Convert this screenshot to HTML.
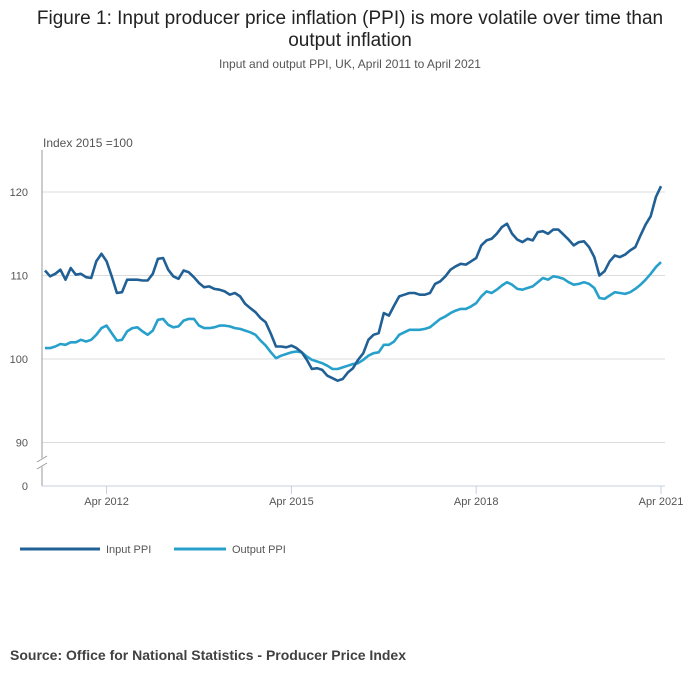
<!DOCTYPE html>
<html><head><meta charset="utf-8"><style>
body{margin:0;background:#fff;font-family:"Liberation Sans",sans-serif;}
svg text{font-family:"Liberation Sans",sans-serif;}
</style></head><body>
<svg width="700" height="682" viewBox="0 0 700 682">
<text x="350" y="24" text-anchor="middle" font-size="19" fill="#222">Figure 1: Input producer price inflation (PPI) is more volatile over time than</text>
<text x="350" y="46" text-anchor="middle" font-size="19" fill="#222">output inflation</text>
<text x="350" y="68" text-anchor="middle" font-size="12" fill="#555">Input and output PPI, UK, April 2011 to April 2021</text>
<text x="43" y="147" font-size="12" fill="#555">Index 2015 =100</text>
<g id="grid"></g>
<line x1="42" y1="150" x2="42" y2="486" stroke="#999" stroke-width="1"/>
<line x1="42" y1="486" x2="665" y2="486" stroke="#c6d0de" stroke-width="1"/>
<rect x="36" y="458" width="12" height="9" fill="#fff"/>
<line x1="37" y1="462" x2="47" y2="456" stroke="#999"/>
<line x1="37" y1="469" x2="47" y2="463" stroke="#999"/>
<text x="28" y="490" text-anchor="end" font-size="11" fill="#555">0</text>
<g id="ticks"></g>
<g id="lines"></g>
<line x1="20" y1="549" x2="100" y2="549" stroke="#206095" stroke-width="3"/>
<text x="106" y="553" font-size="11" fill="#555">Input PPI</text>
<line x1="174" y1="549" x2="226" y2="549" stroke="#27a0cc" stroke-width="3"/>
<text x="232" y="553" font-size="11" fill="#555">Output PPI</text>
<text x="10" y="660" font-size="14" font-weight="bold" fill="#414042">Source: Office for National Statistics - Producer Price Index</text>
</svg>
<script>
const inputPPI=[110.6,109.9,110.2,110.7,109.5,110.9,110.1,110.2,109.8,109.7,111.7,112.6,111.7,109.9,107.9,108.0,109.5,109.5,109.5,109.4,109.4,110.2,112.0,112.1,110.7,109.9,109.6,110.6,110.4,109.8,109.1,108.6,108.7,108.4,108.3,108.1,107.7,107.9,107.5,106.6,106.1,105.6,104.9,104.4,103.0,101.5,101.5,101.4,101.6,101.3,100.8,99.9,98.8,98.9,98.7,98.0,97.7,97.4,97.6,98.4,98.9,99.9,100.7,102.3,102.9,103.1,105.5,105.2,106.4,107.5,107.7,107.9,107.9,107.7,107.7,107.9,109.0,109.3,109.9,110.7,111.1,111.4,111.3,111.7,112.1,113.6,114.2,114.4,115.0,115.8,116.2,115.0,114.3,114.0,114.4,114.2,115.2,115.3,115.0,115.5,115.5,114.9,114.3,113.6,114.0,114.1,113.4,112.2,110.0,110.5,111.7,112.4,112.2,112.5,113.0,113.4,114.8,116.1,117.1,119.4,120.7];
const outputPPI=[101.3,101.3,101.5,101.8,101.7,102.0,102.0,102.3,102.1,102.3,102.9,103.7,104.0,103.1,102.2,102.3,103.3,103.7,103.8,103.3,102.9,103.4,104.7,104.8,104.1,103.8,103.9,104.6,104.8,104.8,104.0,103.7,103.7,103.8,104.0,104.0,103.9,103.7,103.6,103.4,103.2,102.9,102.2,101.6,100.8,100.1,100.4,100.6,100.8,100.9,100.8,100.3,99.9,99.7,99.5,99.2,98.8,98.8,99.0,99.2,99.4,99.5,99.9,100.4,100.7,100.8,101.7,101.7,102.1,102.9,103.2,103.5,103.5,103.5,103.6,103.8,104.3,104.8,105.1,105.5,105.8,106.0,106.0,106.3,106.7,107.5,108.1,107.9,108.3,108.8,109.2,108.9,108.4,108.3,108.5,108.7,109.2,109.7,109.5,109.9,109.8,109.6,109.2,108.9,109.0,109.2,109.0,108.5,107.3,107.2,107.6,108.0,107.9,107.8,108.0,108.4,108.9,109.5,110.2,111.0,111.6];
const yTicks=[90,100,110,120];
const xTickLabels=["Apr 2012","Apr 2015","Apr 2018","Apr 2021"];
const xTickMonths=[12,48,84,120];
const NS="http://www.w3.org/2000/svg";
function xScale(m){return 45+m*(616/120);}
function yScale(v){return 359-(v-100)*8.35;}
const grid=document.getElementById('grid'),ticks=document.getElementById('ticks'),lines=document.getElementById('lines');
yTicks.forEach(t=>{
 const l=document.createElementNS(NS,'line');
 l.setAttribute('x1',42);l.setAttribute('x2',665);l.setAttribute('y1',yScale(t));l.setAttribute('y2',yScale(t));
 l.setAttribute('stroke','#dcdcdc');
 
 
 grid.appendChild(l);
 const tx=document.createElementNS(NS,'text');
 tx.setAttribute('x',28);tx.setAttribute('y',yScale(t)+4);tx.setAttribute('text-anchor','end');
 tx.setAttribute('font-size','11');tx.setAttribute('fill','#555');tx.textContent=t;
 
 
 ticks.appendChild(tx);
});
xTickMonths.forEach((m,i)=>{
 const x=xScale(m);
 const l=document.createElementNS(NS,'line');
 l.setAttribute('x1',x);l.setAttribute('x2',x);l.setAttribute('y1',486);l.setAttribute('y2',494);l.setAttribute('stroke','#c6d0de');
 
 
 ticks.appendChild(l);
 const tx=document.createElementNS(NS,'text');
 tx.setAttribute('x',x);tx.setAttribute('y',505);tx.setAttribute('text-anchor','middle');
 tx.setAttribute('font-size','11');tx.setAttribute('fill','#555');tx.textContent=xTickLabels[i];
 
 
 ticks.appendChild(tx);
});
function drawLine(data,color,name){
 const p=document.createElementNS(NS,'path');
 p.setAttribute('d',data.map((v,i)=>(i?'L':'M')+xScale(i).toFixed(1)+','+yScale(v).toFixed(1)).join(''));
 p.setAttribute('fill','none');p.setAttribute('stroke',color);p.setAttribute('stroke-width','2.6');p.setAttribute('stroke-linejoin','round');
 
 
 lines.appendChild(p);
}
drawLine(outputPPI,'#27a0cc','output-ppi-line');
drawLine(inputPPI,'#206095','input-ppi-line');
</script>
</body></html>
